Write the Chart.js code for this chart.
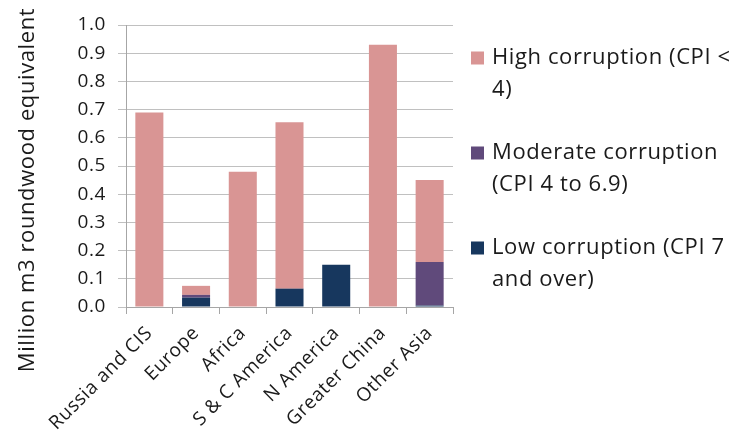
<!DOCTYPE html>
<html>
<head>
<meta charset="utf-8">
<script src="https://cdn.jsdelivr.net/npm/chart.js@4.4.1/dist/chart.umd.min.js"></script>
<style>
  html, body { margin: 0; padding: 0; background: #ffffff; }
  #wrap { position: relative; width: 738px; height: 433px; }
</style>
</head>
<body>
<div id="wrap"><canvas id="c" width="738" height="433"></canvas></div>
<script>
// Supplying regions
const regions = ['Russia and CIS', 'Europe', 'Africa', 'S & C America', 'N America', 'Greater China', 'Other Asia'];

// Million m3 roundwood equivalent, by corruption level of the supplier
const lowCorruption      = [0,    0.033, 0,    0.065, 0.15, 0,    0.005];
const moderateCorruption = [0,    0.010, 0,    0,     0,    0,    0.155];
const highCorruption     = [0.69, 0.032, 0.48, 0.59,  0,    0.93, 0.29];

// Legend wording (each entry wraps over two lines)
const legendLines = [
  ['High corruption (CPI <', '4)'],
  ['Moderate corruption', '(CPI 4 to 6.9)'],
  ['Low corruption (CPI 7', 'and over)']
];

const yTickValues = [0, 0.1, 0.2, 0.3, 0.4, 0.5, 0.6, 0.7, 0.8, 0.9, 1.0];
const yTitle = 'Million m3 roundwood equivalent';

const COLORS = { high: '#d99594', moderate: '#604a7b', low: '#17375e' };
const FONT = '"Open Sans", sans-serif';
const SPACING = '0.6px';

// Slightly open letter spacing for all canvas text
const spacingPlugin = {
  id: 'spacing',
  beforeInit(chart) { chart.ctx.letterSpacing = SPACING; },
  beforeLayout(chart) { chart.ctx.letterSpacing = SPACING; },
  beforeDraw(chart) { chart.ctx.letterSpacing = SPACING; }
};

// Rotated y-axis title
const yTitlePlugin = {
  id: 'yTitle',
  afterDraw(chart) {
    const ctx = chart.ctx;
    ctx.save();
    ctx.translate(28, 190);
    ctx.rotate(-Math.PI / 2);
    ctx.font = '22px ' + FONT;
    ctx.fillStyle = '#1a1a1a';
    ctx.textAlign = 'center';
    ctx.textBaseline = 'middle';
    ctx.fillText(yTitle, 0, 0);
    ctx.restore();
  }
};

// Legend to the right of the plot, top entry = top of the stack
const sideLegend = {
  id: 'sideLegend',
  afterDraw(chart) {
    const ctx = chart.ctx;
    const order = [2, 1, 0]; // high, moderate, low datasets
    const tops = [58, 153, 248];
    ctx.save();
    ctx.font = '22px ' + FONT;
    ctx.textBaseline = 'middle';
    ctx.textAlign = 'left';
    order.forEach((dsIndex, i) => {
      const ds = chart.data.datasets[dsIndex];
      const cy = tops[i];
      ctx.fillStyle = ds.backgroundColor;
      ctx.fillRect(471, cy - 6.5, 13, 13);
      ctx.fillStyle = '#1a1a1a';
      legendLines[i].forEach((line, j) => {
        ctx.fillText(line, 492, cy + j * 32);
      });
    });
    ctx.restore();
  }
};

new Chart(document.getElementById('c'), {
  type: 'bar',
  data: {
    labels: regions,
    datasets: [
      { label: 'Low corruption (CPI 7 and over)', data: lowCorruption, backgroundColor: COLORS.low },
      { label: 'Moderate corruption (CPI 4 to 6.9)', data: moderateCorruption, backgroundColor: COLORS.moderate },
      { label: 'High corruption (CPI < 4)', data: highCorruption, backgroundColor: COLORS.high }
    ]
  },
  options: {
    responsive: false,
    animation: false,
    devicePixelRatio: 1,
    layout: { padding: { top: 25, right: 285, bottom: 0, left: 0 } },
    datasets: { bar: { categoryPercentage: 1.0, barPercentage: 0.6 } },
    plugins: {
      legend: { display: false },
      title: { display: false },
      tooltip: { enabled: false }
    },
    scales: {
      x: {
        stacked: true,
        offset: true,
        afterFit(scale) { scale.height = 126; },
        grid: {
          offset: true,
          drawOnChartArea: false,
          drawTicks: true,
          tickLength: 7,
          color: '#a6a6a6'
        },
        border: { color: '#a6a6a6' },
        ticks: {
          minRotation: 45,
          maxRotation: 45,
          autoSkip: false,
          padding: 8,
          color: '#1a1a1a',
          font: { family: FONT, size: 19 }
        }
      },
      y: {
        stacked: true,
        min: 0,
        max: 1,
        afterFit(scale) { scale.width = 126; },
        afterBuildTicks(scale) { scale.ticks = yTickValues.map(v => ({ value: v })); },
        grid: { color: '#c0c0c0', tickLength: 8 },
        border: { color: '#a6a6a6' },
        ticks: {
          padding: 12,
          color: '#1a1a1a',
          font: { family: FONT, size: 19 },
          callback: v => Number(v).toFixed(1)
        }
      }
    }
  },
  plugins: [spacingPlugin, yTitlePlugin, sideLegend]
});
</script>
</body>
</html>
